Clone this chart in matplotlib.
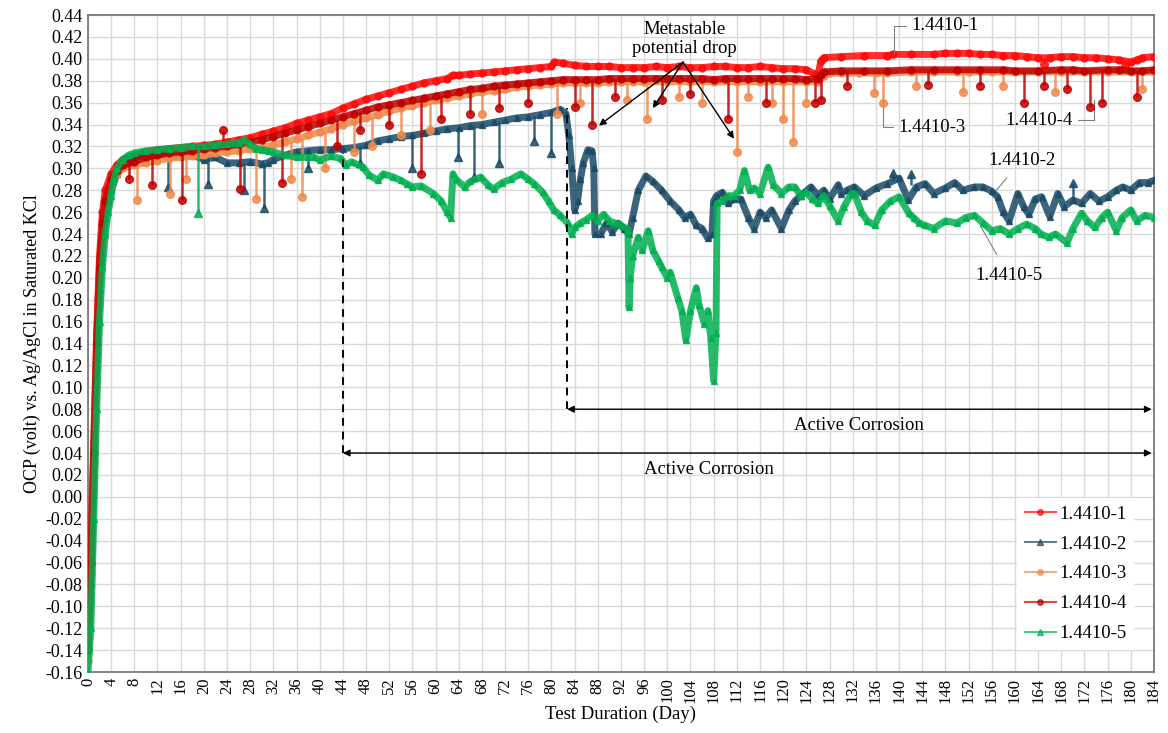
import matplotlib
matplotlib.use("Agg")
import matplotlib.pyplot as plt

plt.rcParams['font.family'] = ['Liberation Serif', 'DejaVu Serif']

# ---------------- data ----------------
labels = ["1.4410-1", "1.4410-2", "1.4410-3", "1.4410-4", "1.4410-5"]

# ---- 1.4410-1 ----
s1_day = [0, 0.5, 1, 1.5, 2, 2.5, 3, 4, 5, 6, 7, 8, 10, 12, 14, 16, 18, 20, 22, 24, 26, 28, 30,
          32, 34, 36, 38, 40, 42, 44, 46, 48, 50, 52, 54, 56, 58, 60, 62, 63, 64, 66, 68, 70, 72,
          74, 76, 78, 80, 80.5, 82, 84, 86, 88, 90, 92, 94, 96, 98, 100, 102, 104, 106, 108, 110,
          112, 114, 116, 118, 120, 122, 124, 125.5, 126, 126.5, 127, 130, 134, 138, 139, 142, 146,
          148, 150, 152, 154, 156, 158, 160, 162, 164, 166, 168, 170, 172, 174, 176, 178,
          180, 181, 182, 184]
s1_val = [-0.13, -0.05, 0.05, 0.15, 0.22, 0.26, 0.28, 0.295, 0.303, 0.308, 0.31, 0.312, 0.315,
          0.317, 0.318, 0.319, 0.32, 0.321, 0.322, 0.324, 0.326, 0.328, 0.331, 0.334, 0.337, 0.341,
          0.344, 0.347, 0.35, 0.355, 0.359, 0.363, 0.366, 0.369, 0.372, 0.375, 0.378, 0.38, 0.382,
          0.385, 0.385, 0.386, 0.387, 0.388, 0.389, 0.39, 0.391, 0.392, 0.393, 0.397, 0.396, 0.394,
          0.393, 0.393, 0.393, 0.392, 0.392, 0.392, 0.393, 0.392, 0.393, 0.392, 0.392, 0.393, 0.393,
          0.392, 0.392, 0.393, 0.392, 0.391, 0.391, 0.39, 0.386, 0.385, 0.398, 0.401, 0.402, 0.403,
          0.403, 0.404, 0.404, 0.404, 0.405, 0.405, 0.405, 0.404, 0.404, 0.403, 0.403, 0.402, 0.401,
          0.401, 0.402, 0.402, 0.401, 0.401, 0.4, 0.399, 0.397, 0.399, 0.401, 0.402]
s1_spike_day = [165, 179]
s1_spike_low = [0.395, 0.393]
s1_spike_top = [0.401, 0.399]

# ---- 1.4410-2 ----
s2_day = [0, 0.5, 1, 1.5, 2, 2.5, 3, 3.5, 4, 5, 6, 7, 8, 10, 12, 14, 16, 18, 20, 22, 24, 26, 28,
          30, 31, 32, 34, 36, 38, 40, 42, 44, 46, 48, 50, 52, 54, 56, 58, 60, 62, 64, 66, 68, 70,
          72, 74, 76, 78, 80, 81.5, 82.5, 83, 83.5, 84, 84.5, 85, 85.5, 86.3, 87, 87.3, 87.5, 88.5,
          89.5, 90.5, 91.5, 92.5, 93.4, 94, 95, 96.3, 97.5, 99, 100.5, 102, 103, 104, 105, 106,
          107, 107.7, 108, 108.5, 109.5, 110.5, 111.5, 112.7, 114, 115, 116, 117, 118, 119.7, 121,
          122, 123, 124.8, 126, 127, 128, 129.5, 130, 131, 132.3, 134, 136, 138, 140, 141.6, 143,
          144.5, 146, 148, 149.6, 151, 153, 154.5, 156, 157, 158, 159, 160.5, 161.5, 162.4, 163.5,
          164.6, 166, 167.4, 168.5, 170, 171.5, 173, 174.5, 176, 177.5, 178.6, 180, 181.5, 183, 184]
s2_val = [-0.14, -0.08, 0.02, 0.12, 0.19, 0.23, 0.255, 0.27, 0.28, 0.295, 0.303, 0.308, 0.31,
          0.312, 0.313, 0.31, 0.312, 0.312, 0.308, 0.31, 0.305, 0.305, 0.306, 0.304, 0.305, 0.308,
          0.312, 0.315, 0.316, 0.317, 0.317, 0.318, 0.319, 0.321, 0.325, 0.327, 0.329, 0.33, 0.332,
          0.334, 0.336, 0.337, 0.339, 0.34, 0.342, 0.344, 0.346, 0.347, 0.349, 0.351, 0.354, 0.35,
          0.33, 0.3, 0.262, 0.27, 0.29, 0.305, 0.317, 0.316, 0.3, 0.24, 0.24, 0.25, 0.242, 0.25,
          0.245, 0.24, 0.255, 0.28, 0.293, 0.288, 0.28, 0.27, 0.262, 0.255, 0.258, 0.248, 0.245,
          0.236, 0.24, 0.27, 0.275, 0.278, 0.268, 0.272, 0.272, 0.255, 0.245, 0.26, 0.255, 0.262,
          0.245, 0.262, 0.27, 0.275, 0.283, 0.275, 0.28, 0.272, 0.285, 0.277, 0.28, 0.283, 0.275,
          0.282, 0.286, 0.291, 0.271, 0.283, 0.286, 0.277, 0.282, 0.287, 0.28, 0.283, 0.283, 0.279,
          0.274, 0.26, 0.252, 0.277, 0.265, 0.258, 0.272, 0.274, 0.256, 0.277, 0.265, 0.271, 0.268,
          0.277, 0.27, 0.274, 0.28, 0.283, 0.28, 0.287, 0.287, 0.289]
s2_spike_day = [13.8, 20.7, 27, 30.4, 38, 47, 56, 63.8, 66.6, 71, 77, 80, 139, 142, 170]
s2_spike_low = [0.283, 0.286, 0.28, 0.264, 0.3, 0.305, 0.3, 0.31, 0.292, 0.305, 0.325, 0.314,
                0.296, 0.295, 0.287]
s2_spike_top = [0.313, 0.309, 0.305, 0.304, 0.316, 0.32, 0.331, 0.337, 0.339, 0.342, 0.348,
                0.351, 0.288, 0.285, 0.271]

# ---- 1.4410-3 ----
s3_day = [0, 0.5, 1, 1.5, 2, 2.5, 3, 4, 5, 6, 8, 10, 12, 14, 16, 18, 20, 22, 24, 26, 28, 30, 32,
          34, 36, 38, 40, 42, 44, 46, 48, 50, 52, 54, 56, 58, 60, 62, 64, 66, 68, 70, 72, 74, 76,
          78, 80, 82, 84, 86, 88, 90, 92, 94, 96, 100, 104, 108, 112, 116, 120, 124, 126, 127,
          128, 130, 133, 136, 138, 142, 146, 150, 152, 156, 160, 164, 168, 172, 176, 180, 184]
s3_val = [-0.15, -0.07, 0.03, 0.13, 0.2, 0.245, 0.265, 0.285, 0.295, 0.3, 0.303, 0.305, 0.307,
          0.309, 0.31, 0.311, 0.312, 0.314, 0.315, 0.316, 0.318, 0.319, 0.321, 0.324, 0.327, 0.33,
          0.333, 0.336, 0.34, 0.343, 0.346, 0.349, 0.352, 0.355, 0.357, 0.36, 0.362, 0.364, 0.366,
          0.368, 0.37, 0.371, 0.372, 0.374, 0.375, 0.376, 0.377, 0.378, 0.378, 0.378, 0.378, 0.379,
          0.379, 0.379, 0.379, 0.379, 0.379, 0.379, 0.379, 0.379, 0.379, 0.379, 0.379, 0.384,
          0.387, 0.387, 0.387, 0.387, 0.387, 0.388, 0.388, 0.388, 0.388, 0.388, 0.388, 0.388,
          0.388, 0.388, 0.388, 0.388, 0.388]
s3_spike_day = [8.4, 14.2, 17, 29, 35, 37, 41, 46, 49, 54, 59, 68, 81, 85, 93, 96.5, 102, 106,
                112, 114, 118, 120, 121.7, 124, 135.7, 137.3, 143, 151, 158, 167, 182]
s3_spike_low = [0.271, 0.277, 0.29, 0.272, 0.29, 0.274, 0.3, 0.315, 0.32, 0.33, 0.335, 0.35,
                0.35, 0.36, 0.362, 0.345, 0.365, 0.36, 0.315, 0.365, 0.36, 0.345, 0.324, 0.36,
                0.369, 0.36, 0.375, 0.37, 0.375, 0.37, 0.372]
s3_spike_top = [0.303, 0.309, 0.31, 0.318, 0.325, 0.328, 0.334, 0.343, 0.347, 0.355, 0.36,
                0.37, 0.377, 0.378, 0.379, 0.379, 0.379, 0.379, 0.379, 0.379, 0.379, 0.379,
                0.379, 0.379, 0.387, 0.387, 0.388, 0.388, 0.388, 0.388, 0.388]

# ---- 1.4410-4 ----
s4_day = [0, 0.5, 1, 1.5, 2, 2.5, 3, 4, 5, 6, 8, 10, 12, 14, 16, 18, 20, 22, 24, 26, 28, 30, 32,
          34, 36, 38, 40, 42, 44, 46, 48, 50, 52, 54, 56, 58, 60, 62, 64, 66, 68, 70, 72, 74, 76,
          78, 80, 82, 84, 86, 88, 90, 92, 94, 96, 98, 100, 102, 104, 106, 108, 110, 112, 114, 116,
          118, 120, 122, 124, 126, 126.5, 127, 130, 134, 138, 142, 146, 150, 154, 158, 160, 164,
          168, 170, 172, 176, 178, 180, 182, 184]
s4_val = [-0.14, -0.06, 0.04, 0.14, 0.21, 0.25, 0.27, 0.29, 0.298, 0.303, 0.306, 0.31, 0.312,
          0.314, 0.315, 0.316, 0.318, 0.319, 0.32, 0.322, 0.324, 0.326, 0.329, 0.332, 0.335, 0.338,
          0.341, 0.344, 0.347, 0.35, 0.353, 0.356, 0.358, 0.36, 0.362, 0.364, 0.366, 0.368, 0.37,
          0.372, 0.373, 0.375, 0.376, 0.377, 0.378, 0.379, 0.38, 0.381, 0.381, 0.381, 0.381, 0.382,
          0.382, 0.382, 0.382, 0.382, 0.382, 0.382, 0.382, 0.382, 0.381, 0.382, 0.382, 0.382,
          0.382, 0.382, 0.382, 0.382, 0.381, 0.382, 0.385, 0.388, 0.389, 0.389, 0.389, 0.39, 0.39,
          0.39, 0.39, 0.39, 0.389, 0.389, 0.39, 0.39, 0.389, 0.39, 0.39, 0.389, 0.389, 0.39]
s4_spike_day = [7, 11, 16.3, 23.3, 26.3, 33.5, 43, 47, 52, 57.4, 61, 66, 71, 76, 84, 87, 91, 99,
                104, 110.5, 117, 125.5, 126.6, 131, 145, 154, 161.5, 165, 169, 173, 175, 181]
s4_spike_low = [0.29, 0.285, 0.271, 0.335, 0.281, 0.287, 0.32, 0.335, 0.34, 0.295, 0.345, 0.35,
                0.355, 0.36, 0.356, 0.34, 0.365, 0.362, 0.368, 0.345, 0.36, 0.36, 0.362, 0.375,
                0.376, 0.375, 0.36, 0.375, 0.372, 0.356, 0.36, 0.365]
s4_spike_top = [0.305, 0.31, 0.315, 0.32, 0.322, 0.33, 0.345, 0.352, 0.358, 0.362, 0.367,
                0.372, 0.375, 0.378, 0.381, 0.381, 0.382, 0.382, 0.382, 0.382, 0.382, 0.381,
                0.385, 0.389, 0.39, 0.39, 0.389, 0.389, 0.39, 0.389, 0.39, 0.389]

# ---- 1.4410-5 ----
s5_day = [0, 0.5, 1, 1.5, 2, 2.5, 3, 3.5, 4, 4.5, 5, 6, 7, 8, 10, 12, 14, 16, 18, 20, 22, 24, 26,
          27, 28, 29, 30, 31, 32, 34, 36, 38, 39, 40, 42, 43.6, 44.5, 45.5, 47.5, 48.5, 50, 51,
          52.7, 54, 55, 56, 57.5, 59.6, 61, 62, 62.6, 63, 63.5, 65, 66, 67.8, 69, 70, 71.5, 73,
          74.7, 76, 77, 78.5, 79.5, 80.4, 81.5, 82.8, 83.5, 84, 85, 86, 87, 88, 89, 90, 91, 92,
          93.2, 93.4, 93.6, 94, 95, 95.7, 96.7, 97.5, 98.5, 99, 100, 100.5, 101.8, 102.5, 103.2,
          104, 105, 105.5, 106.4, 107, 107.5, 108, 108.4, 108.6, 109.5, 110.5, 111.5, 112.5, 113.3,
          114.2, 115, 116, 117.4, 118.3, 119.7, 121, 122, 123, 124, 125, 126, 127, 128, 129.5,
          130.5, 131.8, 132.3, 133.5, 134.5, 135.8, 137, 138.5, 140, 141.7, 142.5, 143.5, 144.4,
          146, 148, 150, 151.5, 153, 154.5, 156, 157.5, 159, 160.5, 162, 163.5, 164.5, 165.8, 167,
          169, 170, 171.5, 172.5, 173.8, 175, 176, 177.5, 178.5, 180, 181, 182.5, 184]
s5_val = [-0.16, -0.12, -0.02, 0.08, 0.16, 0.21, 0.24, 0.26, 0.275, 0.29, 0.3, 0.308, 0.312,
          0.314, 0.316, 0.317, 0.318, 0.319, 0.32, 0.32, 0.321, 0.322, 0.323, 0.326, 0.322, 0.318,
          0.317, 0.316, 0.315, 0.312, 0.31, 0.31, 0.31, 0.308, 0.311, 0.309, 0.303, 0.306, 0.301,
          0.294, 0.289, 0.295, 0.292, 0.289, 0.286, 0.283, 0.284, 0.277, 0.27, 0.26, 0.255, 0.295,
          0.29, 0.283, 0.288, 0.292, 0.285, 0.281, 0.287, 0.29, 0.295, 0.29, 0.286, 0.278, 0.27,
          0.262, 0.257, 0.25, 0.24, 0.246, 0.25, 0.253, 0.257, 0.252, 0.258, 0.252, 0.25, 0.248,
          0.244, 0.173, 0.2, 0.22, 0.237, 0.225, 0.243, 0.225, 0.215, 0.21, 0.2, 0.205, 0.182,
          0.17, 0.143, 0.17, 0.191, 0.175, 0.158, 0.17, 0.145, 0.106, 0.15, 0.268, 0.27, 0.275,
          0.275, 0.28, 0.298, 0.28, 0.282, 0.277, 0.301, 0.285, 0.277, 0.283, 0.283, 0.275, 0.278,
          0.272, 0.268, 0.275, 0.266, 0.252, 0.265, 0.277, 0.277, 0.26, 0.252, 0.248, 0.262, 0.27,
          0.274, 0.259, 0.255, 0.25, 0.248, 0.245, 0.252, 0.25, 0.255, 0.257, 0.25, 0.243, 0.245,
          0.24, 0.245, 0.249, 0.245, 0.24, 0.237, 0.24, 0.232, 0.245, 0.259, 0.252, 0.246, 0.255,
          0.26, 0.243, 0.255, 0.262, 0.252, 0.257, 0.255]
s5_spike_day = [19]
s5_spike_low = [0.259]
s5_spike_top = [0.319]

x_ticks = list(range(0, 185, 4))
y_ticks = [round(-0.16 + 0.02 * i, 2) for i in range(31)]

# ---------------- styling ----------------
colors = ["#FF0A0A", "#1A4A66", "#F08A4B", "#C00000", "#00B050"]
markers = ["o", "^", "o", "o", "^"]
series = [(s1_day, s1_val, s1_spike_day, s1_spike_low, s1_spike_top),
          (s2_day, s2_val, s2_spike_day, s2_spike_low, s2_spike_top),
          (s3_day, s3_val, s3_spike_day, s3_spike_low, s3_spike_top),
          (s4_day, s4_val, s4_spike_day, s4_spike_low, s4_spike_top),
          (s5_day, s5_val, s5_spike_day, s5_spike_low, s5_spike_top)]

fig = plt.figure(figsize=(11.68, 7.33), dpi=100)
ax = fig.add_axes([0.0753, 0.0832, 0.9127, 0.8963])

for z, ((d, v, sd, sl, st), c, m, lab) in enumerate(zip(series, colors, markers, labels)):
    ax.plot(d, v, color=c, marker=m, markersize=5, linewidth=5.0, alpha=0.85, label=lab,
            solid_joinstyle='round', zorder=3 + z)
    ax.vlines(sd, sl, st, colors=c, linewidth=1.8, alpha=0.85, zorder=3 + z)
    ax.plot(sd, sl, linestyle="none", marker=m, markersize=5.5, color=c, alpha=0.85, zorder=3 + z)

ax.set_xlim(0, 184)
ax.set_ylim(-0.16, 0.44)
ax.set_xticks(x_ticks)
ax.set_xticklabels([str(t) for t in x_ticks], rotation=90, fontsize=12)
ax.set_yticks(y_ticks)
ax.set_yticklabels([f"{t:.2f}" for t in y_ticks], fontsize=13)
ax.tick_params(length=0, pad=4)
ax.grid(True, color="#D9D9D9", linewidth=1.0, zorder=0)
ax.set_axisbelow(True)
for sp in ax.spines.values():
    sp.set_color("#707070")
    sp.set_linewidth(1.2)

ax.set_xlabel("Test Duration (Day)", fontsize=13.5, labelpad=2)
ax.set_ylabel("OCP (volt) vs. Ag/AgCl in Saturated KCl", fontsize=13, labelpad=3)

# dashed markers of corrosion onset
ax.plot([44, 44], [0.04, 0.314], color="black", linestyle=(0, (4, 3)), linewidth=1.4, zorder=9)
ax.plot([82.7, 82.7], [0.08, 0.355], color="black", linestyle=(0, (4, 3)), linewidth=1.4, zorder=9)

# active corrosion arrows
ax.annotate("", xy=(183.6, 0.08), xytext=(82.7, 0.08),
            arrowprops=dict(arrowstyle="<|-|>", color="black", lw=1.0, mutation_scale=10,
                            shrinkA=0, shrinkB=0))
ax.text(133, 0.065, "Active Corrosion", ha="center", va="center", fontsize=13.5)
ax.annotate("", xy=(183.6, 0.04), xytext=(44, 0.04),
            arrowprops=dict(arrowstyle="<|-|>", color="black", lw=1.0, mutation_scale=10,
                            shrinkA=0, shrinkB=0))
ax.text(107.2, 0.025, "Active Corrosion", ha="center", va="center", fontsize=13.5)

# metastable potential drop
ax.text(102.9, 0.4185, "Metastable\npotential drop", ha="center", va="center", fontsize=13.5,
        linespacing=1.15)
for tx, ty in [(88.2, 0.339), (97.5, 0.355), (111.5, 0.327)]:
    ax.annotate("", xy=(tx, ty), xytext=(102.7, 0.397),
                arrowprops=dict(arrowstyle="-|>", color="black", lw=1.0, mutation_scale=10,
                                shrinkA=0, shrinkB=0), zorder=10)

# series labels with leader lines
lead = dict(arrowstyle="-", color="#808080", lw=0.8, shrinkA=2, shrinkB=0)
ax.annotate("1.4410-1", xy=(139.2, 0.405), xytext=(142.1, 0.43), ha="left", va="center",
            fontsize=13.5, arrowprops=dict(lead, connectionstyle="angle,angleA=0,angleB=90,rad=0"))
ax.annotate("1.4410-3", xy=(137.3, 0.362), xytext=(139.9, 0.3375), ha="left", va="center",
            fontsize=13.5, arrowprops=dict(lead, connectionstyle="angle,angleA=0,angleB=90,rad=0"))
ax.annotate("1.4410-4", xy=(173.6, 0.362), xytext=(170.0, 0.344), ha="right", va="center",
            fontsize=13.5, arrowprops=dict(lead, connectionstyle="angle,angleA=0,angleB=90,rad=0"))
ax.annotate("1.4410-2", xy=(156.8, 0.28), xytext=(161.2, 0.3074), ha="center", va="center",
            fontsize=13.5, arrowprops=dict(lead, shrinkA=6))
ax.annotate("1.4410-5", xy=(154.2, 0.246), xytext=(158.9, 0.202), ha="center", va="center",
            fontsize=13.5, arrowprops=dict(lead, shrinkA=8))

leg = ax.legend(loc="upper left", bbox_to_anchor=(0.863, 0.279), fontsize=13.5, frameon=True,
                framealpha=1.0, edgecolor="none", handlelength=1.65, handletextpad=0.2,
                labelspacing=0.68, borderpad=0.4, fancybox=False)
leg.set_zorder(20)
for h in leg.legend_handles:
    h.set_linewidth(1.5)
    h.set_markersize(4)
    h.set_alpha(0.7)

fig.savefig("out.png", dpi=100)
